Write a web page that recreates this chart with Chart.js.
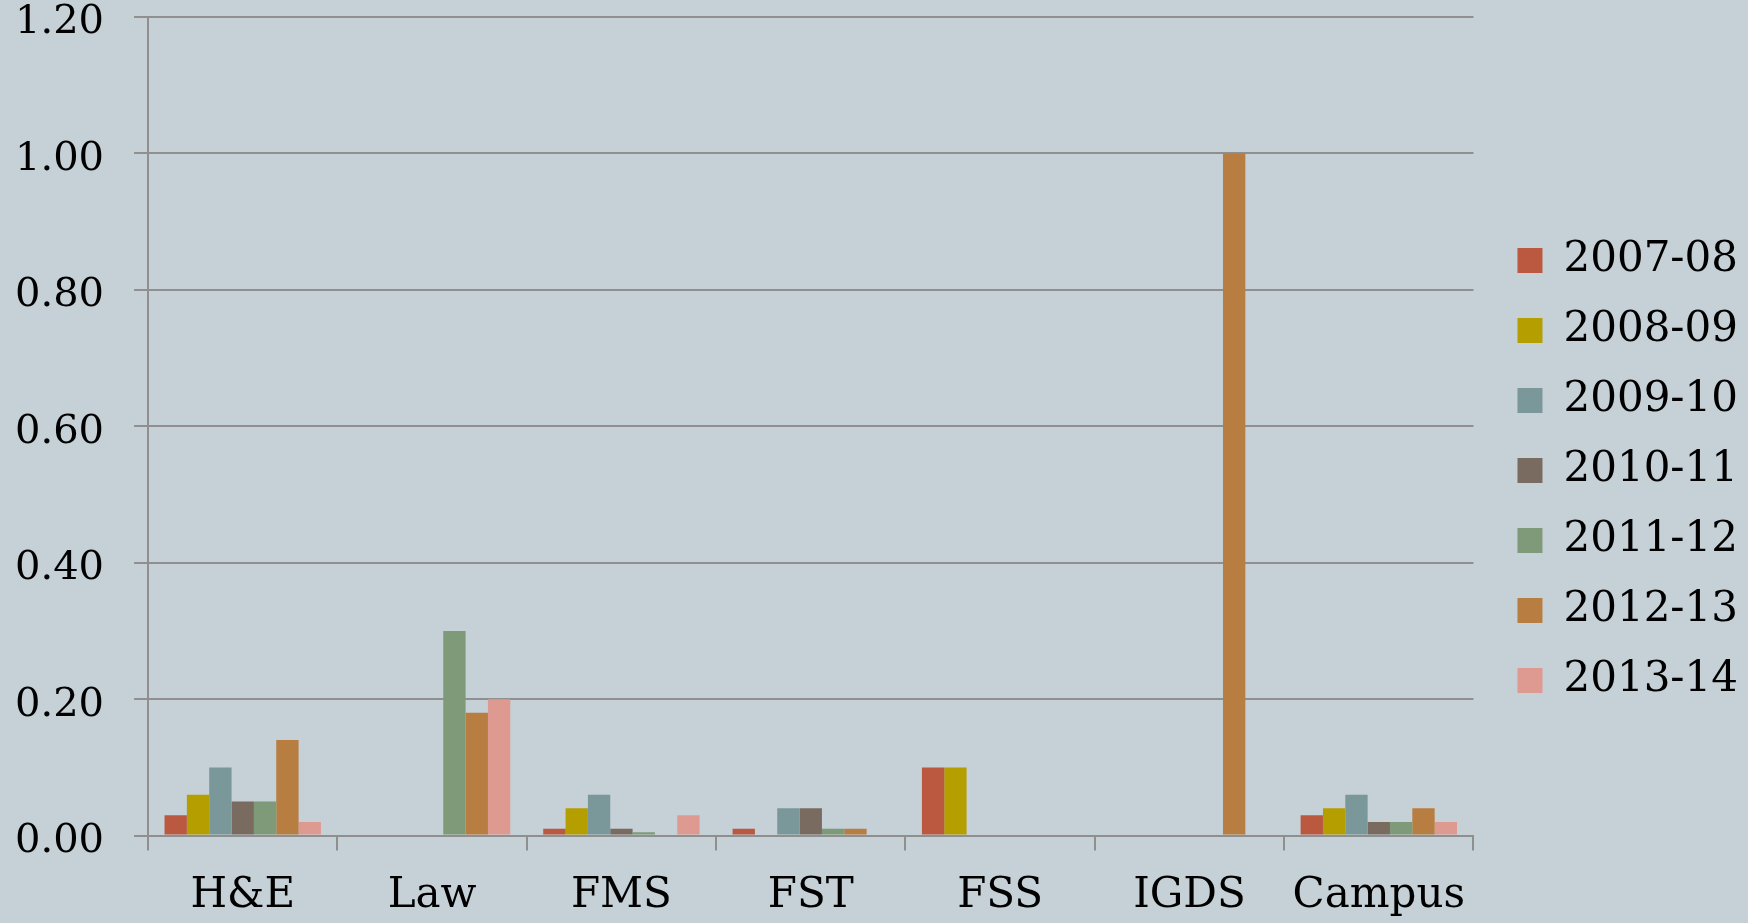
<!DOCTYPE html>
<html>
<head>
<meta charset="utf-8">
<script src="https://cdn.jsdelivr.net/npm/chart.js@4/dist/chart.umd.min.js"></script>
<style>
  html, body { margin: 0; padding: 0; background: #c5d1d7; }
  #wrap { width: 1748px; height: 923px; }
</style>
</head>
<body>
<div id="wrap"><canvas id="chart" width="1748" height="923"></canvas></div>
<script>
// categories and series
const categories = ['H&E', 'Law', 'FMS', 'FST', 'FSS', 'IGDS', 'Campus'];
const seriesNames = ['2007-08', '2008-09', '2009-10', '2010-11', '2011-12', '2012-13', '2013-14'];
const seriesColors = ['#ba5840', '#b59e00', '#7a9799', '#7a6b60', '#7e9a78', '#b87d41', '#de9a90'];

const s0708 = [0.03, 0, 0.01, 0.01, 0.10, 0, 0.03];
const s0809 = [0.06, 0, 0.04, 0, 0.10, 0, 0.04];
const s0910 = [0.10, 0, 0.06, 0.04, 0, 0, 0.06];
const s1011 = [0.05, 0, 0.01, 0.04, 0, 0, 0.02];
const s1112 = [0.05, 0.30, 0.005, 0.01, 0, 0, 0.02];
const s1213 = [0.14, 0.18, 0, 0.01, 0, 1.00, 0.04];
const s1314 = [0.02, 0.20, 0.03, 0, 0, 0, 0.02];

const yTicks = [0, 0.2, 0.4, 0.6, 0.8, 1.0, 1.2];

const allSeries = [s0708, s0809, s0910, s1011, s1112, s1213, s1314];
const gridColor = '#8f8f8f';
const fontFamily = '"DejaVu Serif", "Liberation Serif", serif';
const legendShift = 16;

const datasets = allSeries.map(function(values, i) {
  return {
    label: seriesNames[i],
    data: values,
    backgroundColor: seriesColors[i],
    borderWidth: 0,
    categoryPercentage: 0.826,
    barPercentage: 1.0
  };
});

// keep the legend against the right edge while the plot leaves a wider gap
const legendNudge = {
  id: 'legendNudge',
  afterLayout: function(chart) {
    if (chart.legend) {
      chart.legend.left += legendShift;
      chart.legend.right += legendShift;
    }
  }
};

new Chart(document.getElementById('chart').getContext('2d'), {
  type: 'bar',
  data: { labels: categories, datasets: datasets },
  plugins: [legendNudge],
  options: {
    responsive: false,
    animation: false,
    layout: { padding: { left: -15, right: legendShift, top: 0, bottom: -18 } },
    plugins: {
      tooltip: { enabled: false },
      legend: {
        position: 'right',
        labels: {
          color: '#000',
          font: { family: fontFamily, size: 42 },
          boxWidth: 25,
          boxHeight: 25,
          padding: 28
        }
      }
    },
    scales: {
      x: {
        grid: {
          color: gridColor,
          lineWidth: 2,
          drawOnChartArea: false,
          drawTicks: true,
          tickLength: 15,
          offset: true
        },
        border: { color: gridColor, width: 2 },
        ticks: {
          color: '#000',
          font: { family: fontFamily, size: 42 },
          padding: 20,
          maxRotation: 0,
          autoSkip: false
        }
      },
      y: {
        min: 0,
        max: 1.2,
        afterBuildTicks: function(axis) {
          axis.ticks = yTicks.map(function(v) { return { value: v }; });
        },
        afterFit: function(axis) {
          axis.paddingTop = 17;
        },
        grid: {
          color: gridColor,
          lineWidth: 2,
          tickLength: 14
        },
        border: { color: gridColor, width: 2 },
        ticks: {
          color: '#000',
          font: { family: fontFamily, size: 40, lineHeight: 0.85 },
          padding: 30,
          labelOffset: 6,
          callback: function(value) { return Number(value).toFixed(2); }
        }
      }
    }
  }
});
</script>
</body>
</html>
